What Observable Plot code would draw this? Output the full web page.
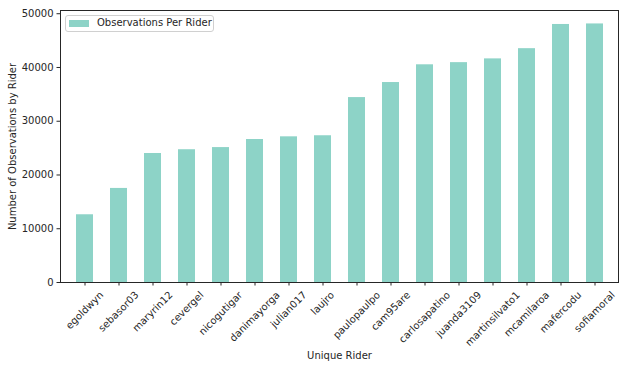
<!DOCTYPE html>
<html>
<head>
<meta charset="utf-8">
<script src="https://cdn.jsdelivr.net/npm/d3@7"></script>
<script src="https://cdn.jsdelivr.net/npm/@observablehq/plot@0.6"></script>
<style>
  html, body { margin: 0; padding: 0; background: white; }
  #wrap { position: relative; width: 629px; height: 368px; font-family: "DejaVu Sans", sans-serif; color: #262626; }
  #legend { position: absolute; left: 65px; top: 15px; width: 149px; height: 17px; border: 1px solid #d0d0d0; border-radius: 3px; background: rgba(255,255,255,0.8); box-sizing: border-box; }
  #legend .patch { position: absolute; left: 3px; top: 4px; width: 20px; height: 7px; background: #8dd3c7; }
  #legend .lab { position: absolute; left: 31px; top: 1px; font-size: 10px; line-height: 12px; white-space: nowrap; }
</style>
</head>
<body>
<div id="wrap"></div>
<script>
const riders = ["egoldwyn", "sebasor03", "maryrin12", "cevergel", "nicogutigar", "danimayorga", "julian017", "laujro", "paulopaulpo", "cam95are", "carlosapatino", "juanda3109", "martinsilvato1", "mcamilaroa", "mafercodu", "sofiamoral"];
const observations = [12600, 17500, 24000, 24700, 25100, 26600, 27100, 27300, 34400, 37200, 40500, 40900, 41600, 43500, 48000, 48100];
const yTicks = [0, 10000, 20000, 30000, 40000, 50000];
const seriesName = "Observations Per Rider";
const xTitle = "Unique Rider";
const yTitle = "Number of Observations by Rider";

const data = riders.map((r, i) => ({rider: r, obs: observations[i]}));

const plot = Plot.plot({
  width: 629,
  height: 368,
  marginLeft: 60,
  marginRight: 11,
  marginTop: 10,
  marginBottom: 86,
  style: {fontFamily: "DejaVu Sans", fontSize: "10px", color: "#262626", background: "white", overflow: "visible"},
  x: {domain: riders, paddingInner: 0.5, paddingOuter: 0.25},
  y: {domain: [0, 50600]},
  marks: [
    Plot.barY(data, {x: "rider", y: "obs", fill: "#8dd3c7"}),
    Plot.frame({stroke: "#262626", strokeWidth: 1}),
    Plot.axisY({ticks: yTicks, tickSize: 3.5, tickPadding: 3.5, tickFormat: d3.format("d"),
      label: yTitle, labelAnchor: "center", labelArrow: "none", labelOffset: 52}),
    Plot.axisX({tickSize: 3.5, tickPadding: 3.5, tickRotate: -45,
      label: xTitle, labelAnchor: "center", labelArrow: "none", labelOffset: 76})
  ]
});

const wrap = document.getElementById("wrap");
wrap.appendChild(plot);

// Center rotated tick label bounding boxes under ticks (matplotlib style)
const xs = plot.scale("x");
const ys = plot.scale("y");
const y0 = ys.apply(0);
const svg = d3.select(plot);
svg.selectAll('g[aria-label="x-axis tick label"] text').each(function(d, i) {
  const el = this;
  const w = el.getComputedTextLength();
  const h = 11.6;
  const H = (w + h) * Math.SQRT1_2;
  const cx = xs.apply(riders[i]) + xs.bandwidth / 2;
  const cy = y0 + 3.5 + 3.5 + H / 2;
  el.setAttribute("transform", `translate(${cx},${cy}) rotate(-45)`);
  el.setAttribute("text-anchor", "middle");
  el.removeAttribute("x");
  el.removeAttribute("y");
  el.setAttribute("dy", "0.35em");
});
svg.select('g[aria-label="x-axis tick label"]').attr("transform", null).attr("text-anchor", "middle");

const legend = document.createElement("div");
legend.id = "legend";
legend.innerHTML = `<div class="patch"></div><div class="lab">${seriesName}</div>`;
wrap.appendChild(legend);
</script>
</body>
</html>
